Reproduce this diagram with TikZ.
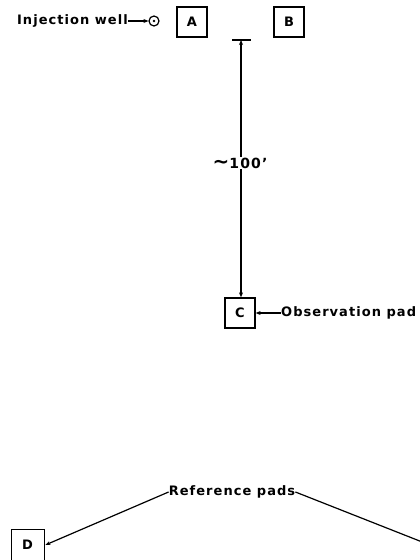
\documentclass[tikz,border=0pt]{standalone}
\usepackage{fontspec}
\setmainfont{DejaVu Sans}[LetterSpace=8]
\usetikzlibrary{arrows.meta}
\tikzset{
  lbl/.style={font=\fontsize{13}{15}\selectfont\bfseries, inner sep=0pt},
  pad/.style={draw, line width=1.3pt, minimum width=30pt, minimum height=30pt,
              inner sep=0pt, font=\fontsize{13}{15}\selectfont\bfseries},
  conn/.style={line width=1.2pt, -{Stealth[length=5pt,width=4pt]}},
  plain/.style={line width=1.2pt}
}
\begin{document}
\begin{tikzpicture}[x=1pt,y=-1pt]
\useasboundingbox (0,0) rectangle (420,560);
\clip (0,0) rectangle (420,560);

% injection well and the pads round it
\node[lbl, anchor=east] (inj) at (128,21) {Injection well};
\node[draw, circle, line width=1.2pt, minimum size=10pt, inner sep=0pt] (well) at (154,21) {};
\fill (well.center) circle (1.4pt);
\draw[conn] (inj.east) -- (well.west);

\node[pad] (A) at (192,22) {A};
\node[pad] (B) at (289,22) {B};
\node[pad] (C) at (240,313) {C};
\node[pad, minimum width=33pt, minimum height=40pt, anchor=north west] (D) at (11,529) {};
\node[font=\fontsize{13}{15}\selectfont\bfseries] (Dl) at (27.5,545) {D};

% distance between the pad line and the observation pad
\coordinate (top) at (241,40);
\draw[plain] (232,40) -- (251,40);
\node[font=\fontsize{14}{16}\selectfont\bfseries, fill=white, inner sep=1pt] (dist) at (240,163) {{\fontsize{20}{20}\selectfont\textasciitilde}100'};
\draw[conn] (dist.north -| top) -- (top);
\draw[conn] (dist.south -| top) -- (top |- C.north);

% labels
\node[lbl, anchor=west] (obs) at (281,313) {Observation pad};
\draw[conn] (obs.west) -- (C.east);

\node[lbl] (ref) at (232,492) {Reference pads};
\coordinate (far) at (440,549);
\draw[conn] (ref.west) -- (D.east |- Dl);
\draw[conn] (ref.east) -- (far);
\end{tikzpicture}
\end{document}
